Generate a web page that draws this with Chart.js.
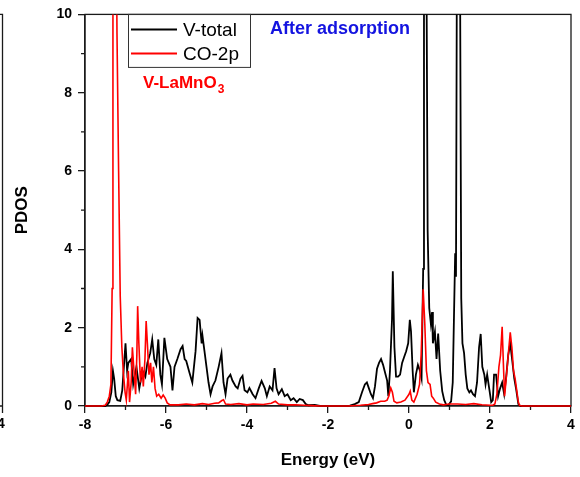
<!DOCTYPE html>
<html>
<head>
<meta charset="utf-8">
<script src="https://cdn.jsdelivr.net/npm/chart.js@4.4.0/dist/chart.umd.min.js"></script>
<style>
  html, body { margin: 0; padding: 0; background: #fff; }
  #wrap { width: 580px; height: 477px; }
</style>
</head>
<body>
<div id="wrap"><canvas id="pdos" width="580" height="477"></canvas></div>
<script>
/* PDOS of V-LaMnO3 after CO adsorption */
const FONT = 'Arial, "Liberation Sans", sans-serif';

// V-total (black)
const vTotalE = [
  -8.00, -7.50, -7.45, -7.40, -7.35, -7.31, -7.28, -7.24, -7.20, -7.13,
  -7.08, -7.00, -6.96, -6.93, -6.86, -6.81, -6.73, -6.66, -6.58, -6.51,
  -6.46, -6.39, -6.34, -6.29, -6.24, -6.19, -6.14, -6.10, -6.04, -5.97,
  -5.89, -5.84, -5.79, -5.72, -5.64, -5.59, -5.54, -5.50, -5.42, -5.35,
  -5.27, -5.22, -5.17, -5.12, -5.10, -5.05, -5.00, -4.95, -4.90, -4.85,
  -4.78, -4.70, -4.63, -4.58, -4.53, -4.48, -4.41, -4.36, -4.28, -4.23,
  -4.16, -4.11, -4.06, -3.99, -3.94, -3.86, -3.79, -3.71, -3.64, -3.56,
  -3.51, -3.44, -3.37, -3.32, -3.27, -3.22, -3.14, -3.07, -3.00, -2.92,
  -2.85, -2.77, -2.70, -2.62, -2.55, -2.48, -2.33, -2.20, -1.50, -1.46,
  -1.34, -1.24, -1.16, -1.09, -1.04, -0.99, -0.94, -0.89, -0.84, -0.79,
  -0.74, -0.69, -0.64, -0.59, -0.54, -0.51, -0.47, -0.42, -0.40, -0.36,
  -0.32, -0.27, -0.22, -0.17, -0.12, -0.07, -0.02, 0.02, 0.05, 0.09,
  0.12, 0.17, 0.22, 0.27, 0.31, 0.35, 0.37, 0.42, 0.46, 0.50,
  0.54, 0.57, 0.59, 0.64, 0.68, 0.72, 0.77, 0.82, 0.87, 0.92,
  0.97, 1.04, 1.08, 1.10, 1.14, 1.16, 1.19, 1.25, 1.29, 1.32,
  1.36, 1.40, 1.44, 1.49, 1.53, 1.58, 1.63, 1.68, 1.73, 1.77,
  1.81, 1.86, 1.89, 1.93, 1.98, 2.03, 2.07, 2.10, 2.15, 2.20,
  2.25, 2.30, 2.35, 2.40, 2.45, 2.50, 2.55, 2.60, 2.65, 2.70,
  2.75, 4.00
];
const vTotal = [
  0, 0, 0.03, 0.1, 0.35, 0.9, 0.7, 0.25, 0.15, 0.13,
  0.4, 1.6, 0.9, 1.1, 1.2, 0.55, 1.0, 0.45, 0.9, 0.75,
  1.1, 1.35, 1.7, 1.2, 1.05, 1.7, 0.8, 0.55, 1.74, 1.2,
  1.0, 0.4, 1.0, 1.2, 1.45, 1.53, 1.2, 1.15, 0.85, 0.6,
  1.4, 2.25, 2.2, 1.6, 1.8, 1.4, 1.0, 0.6, 0.3, 0.5,
  0.65, 1.0, 1.35, 0.6, 0.3, 0.7, 0.8, 0.65, 0.5, 0.45,
  0.7, 0.77, 0.4, 0.35, 0.46, 0.3, 0.2, 0.45, 0.64, 0.45,
  0.25, 0.5, 0.4, 0.97, 0.45, 0.3, 0.43, 0.25, 0.3, 0.15,
  0.2, 0.1, 0.18, 0.15, 0.05, 0.02, 0.03, 0, 0, 0.01,
  0.05, 0.1, 0.35, 0.55, 0.6, 0.45, 0.3, 0.2, 0.5, 0.95,
  1.1, 1.2, 1.05, 0.85, 0.65, 0.25, 0.9, 2.2, 3.44, 1.5,
  0.75, 0.75, 0.8, 1.1, 1.25, 1.4, 1.6, 2.2, 1.9, 0.9,
  0.35, 0.8, 1.05, 0.9, 0.7, 3.5, 14, 14, 4.5, 2.5,
  2.1, 2.4, 1.6, 1.9, 1.2, 1.85, 0.9, 0.38, 0.15, 0.03,
  0.02, 0.12, 0.6, 1.7, 3.9, 3.3, 14, 14, 2.75, 1.6,
  1.35, 0.8, 0.45, 0.35, 0.4, 0.3, 0.25, 0.6, 1.5, 1.84,
  1.0, 0.8, 0.55, 0.8, 0.45, 0.1, 0.15, 0.8, 0.8, 0.25,
  0.45, 0.6, 0.3, 0.75, 1.3, 1.6, 1.15, 0.7, 0.4, 0.05,
  0, 0
];

// CO-2p (red)
const co2pE = [
  -8.00, -7.60, -7.50, -7.45, -7.40, -7.36, -7.33, -7.31, -7.24, -7.21,
  -7.17, -7.13, -7.09, -7.05, -7.01, -6.98, -6.93, -6.90, -6.86, -6.83,
  -6.79, -6.75, -6.72, -6.70, -6.67, -6.63, -6.59, -6.56, -6.52, -6.49,
  -6.46, -6.42, -6.38, -6.35, -6.31, -6.27, -6.23, -6.18, -6.12, -6.07,
  -6.02, -5.97, -5.90, -5.70, -5.50, -5.30, -5.10, -4.95, -4.80, -4.70,
  -4.62, -4.58, -4.53, -4.40, -4.20, -4.00, -3.85, -3.60, -3.40, -3.30,
  -3.22, -3.00, -2.80, -2.60, -2.40, -2.20, -1.50, -1.20, -1.00, -0.90,
  -0.80, -0.70, -0.60, -0.54, -0.50, -0.45, -0.41, -0.37, -0.30, -0.20,
  -0.10, 0.00, 0.03, 0.07, 0.12, 0.20, 0.26, 0.30, 0.35, 0.39,
  0.43, 0.47, 0.52, 0.56, 0.60, 0.66, 0.75, 0.85, 1.00, 1.20,
  1.40, 1.60, 1.80, 2.00, 2.07, 2.12, 2.17, 2.22, 2.26, 2.30,
  2.33, 2.36, 2.40, 2.45, 2.50, 2.54, 2.58, 2.62, 2.66, 2.70,
  2.73, 2.80, 4.00
];
const co2p = [
  0, 0, 0.02, 0.1, 0.25, 0.55, 3.0, 14, 14, 9.5,
  6.0, 2.8, 1.5, 0.8, 0.35, 0.15, 0.9, 0.1, 0.6, 1.5,
  0.9, 0.3, 1.3, 2.55, 1.6, 0.6, 1.0, 0.5, 1.2, 2.17,
  1.6, 0.8, 1.1, 0.6, 1.0, 0.45, 0.25, 0.3, 0.2, 0.28,
  0.2, 0.08, 0.03, 0.03, 0.05, 0.03, 0.06, 0.04, 0.07, 0.08,
  0.14, 0.16, 0.05, 0.04, 0.06, 0.03, 0.05, 0.04, 0.07, 0.12,
  0.05, 0.03, 0.03, 0.02, 0.01, 0, 0, 0.02, 0.04, 0.06,
  0.08, 0.12, 0.12, 0.15, 0.25, 0.46, 0.35, 0.12, 0.08, 0.1,
  0.15, 0.3, 0.38, 0.15, 0.1, 0.3, 0.55, 1.3, 2.98, 2.1,
  0.9, 0.6, 0.55, 0.25, 0.2, 0.1, 0.05, 0.03, 0.05, 0.05,
  0.04, 0.06, 0.03, 0.02, 0.02, 0.05, 0.3, 1.0, 1.3, 2.02,
  1.1, 0.25, 0.7, 1.3, 1.88, 1.5, 0.9, 0.7, 0.4, 0.1,
  0.01, 0, 0
];

const xTicks = [-8, -6, -4, -2, 0, 2, 4];
const xMinor = [-7, -5, -3, -1, 1, 3];
const yTicks = [0, 2, 4, 6, 8, 10];
const yMinor = [1, 3, 5, 7, 9];

const AXIS = '#1a1a1a';

const extras = {
  id: 'extras',
  beforeDatasetsDraw(chart) {
    const { ctx, chartArea: a, scales: { x, y } } = chart;
    ctx.save();
    ctx.strokeStyle = AXIS;
    ctx.lineWidth = 1.3;
    ctx.strokeRect(a.left, a.top, a.right - a.left, a.bottom - a.top);
    // minor ticks
    ctx.beginPath();
    xMinor.forEach(v => {
      const px = x.getPixelForValue(v);
      ctx.moveTo(px, a.bottom); ctx.lineTo(px, a.bottom + 4);
    });
    yMinor.forEach(v => {
      const py = y.getPixelForValue(v);
      ctx.moveTo(a.left, py); ctx.lineTo(a.left - 4, py);
    });
    // edge of the neighbouring panel, cut off at the left
    ctx.moveTo(0, a.top); ctx.lineTo(2.5, a.top); ctx.lineTo(2.5, a.bottom); ctx.lineTo(0, a.bottom);
    ctx.moveTo(2.5, a.bottom); ctx.lineTo(2.5, a.bottom + 7);
    ctx.stroke();
    ctx.fillStyle = '#000';
    ctx.font = 'bold 14px ' + FONT;
    ctx.textAlign = 'center';
    ctx.textBaseline = 'top';
    ctx.fillText('4', 1, a.bottom + 11);
    ctx.restore();
  },
  afterDraw(chart) {
    const { ctx, chartArea: a } = chart;
    ctx.save();
    // legend box
    const bx = a.left + 43, by = a.top, bw = 122, bh = 53;
    ctx.strokeStyle = '#333';
    ctx.lineWidth = 1;
    ctx.strokeRect(bx + 0.5, by, bw, bh);
    ctx.font = '19px ' + FONT;
    ctx.textAlign = 'left';
    ctx.textBaseline = 'middle';
    chart.data.datasets.forEach((ds, i) => {
      const ly = by + 15 + i * 24;
      ctx.strokeStyle = ds.borderColor;
      ctx.lineWidth = 2;
      ctx.beginPath(); ctx.moveTo(bx + 3, ly); ctx.lineTo(bx + 49, ly); ctx.stroke();
      ctx.fillStyle = '#000';
      ctx.fillText(ds.label, bx + 55, ly + 1);
    });
    // sample label with subscript
    ctx.fillStyle = '#ff0000';
    ctx.font = 'bold 17px ' + FONT;
    const sx = a.left + 58, sy = a.top + 69;
    ctx.fillText('V-LaMnO', sx, sy);
    const w = ctx.measureText('V-LaMnO').width;
    ctx.font = 'bold 12px ' + FONT;
    ctx.fillText('3', sx + w + 1, sy + 6);
    // state label
    ctx.fillStyle = '#1414e0';
    ctx.font = 'bold 18px ' + FONT;
    ctx.fillText('After adsorption', a.left + 185, a.top + 15);
    ctx.restore();
  }
};

new Chart(document.getElementById('pdos'), {
  type: 'line',
  data: {
    datasets: [
      {
        label: 'V-total',
        data: vTotalE.map((e, i) => ({ x: e, y: vTotal[i] })),
        borderColor: '#000000', borderWidth: 1.8,
        pointRadius: 0, tension: 0, order: 2,
        clip: { left: 0, top: 0, right: 0, bottom: 2 },
      },
      {
        label: 'CO-2p',
        data: co2pE.map((e, i) => ({ x: e, y: co2p[i] })),
        borderColor: '#ff0000', borderWidth: 1.6,
        pointRadius: 0, tension: 0, order: 1,
        clip: { left: 0, top: 0, right: 0, bottom: 2 },
      },
    ],
  },
  options: {
    responsive: false, animation: false, devicePixelRatio: 1,
    layout: { padding: { top: 13, right: 9, left: 0, bottom: 0 } },
    plugins: { legend: { display: false }, tooltip: { enabled: false } },
    scales: {
      x: {
        type: 'linear', min: -8, max: 4,
        afterBuildTicks: s => { s.ticks = xTicks.map(v => ({ value: v })); },
        afterFit: s => { s.height = 71; },
        grid: { drawOnChartArea: false, tickLength: 7, color: AXIS, lineWidth: 1.3 },
        border: { color: AXIS, width: 1.3 },
        ticks: { color: '#000', padding: 4, maxRotation: 0, autoSkip: false,
                 font: { family: FONT, size: 14, weight: 'bold' } },
        title: { display: true, text: 'Energy (eV)', color: '#000',
                 font: { family: FONT, size: 17, weight: 'bold' }, padding: { top: 0, bottom: 6 } },
      },
      y: {
        type: 'linear', min: 0, max: 10,
        afterBuildTicks: s => { s.ticks = yTicks.map(v => ({ value: v })); },
        afterFit: s => { s.width = 85; },
        grid: { drawOnChartArea: false, tickLength: 7, color: AXIS, lineWidth: 1.3 },
        border: { color: AXIS, width: 1.3 },
        ticks: { color: '#000', padding: 6,
                 font: { family: FONT, size: 14, weight: 'bold' } },
        title: { display: true, text: 'PDOS', color: '#000',
                 font: { family: FONT, size: 17, weight: 'bold' }, padding: { top: 12, bottom: 0 } },
      },
    },
  },
  plugins: [extras],
});
</script>
</body>
</html>
